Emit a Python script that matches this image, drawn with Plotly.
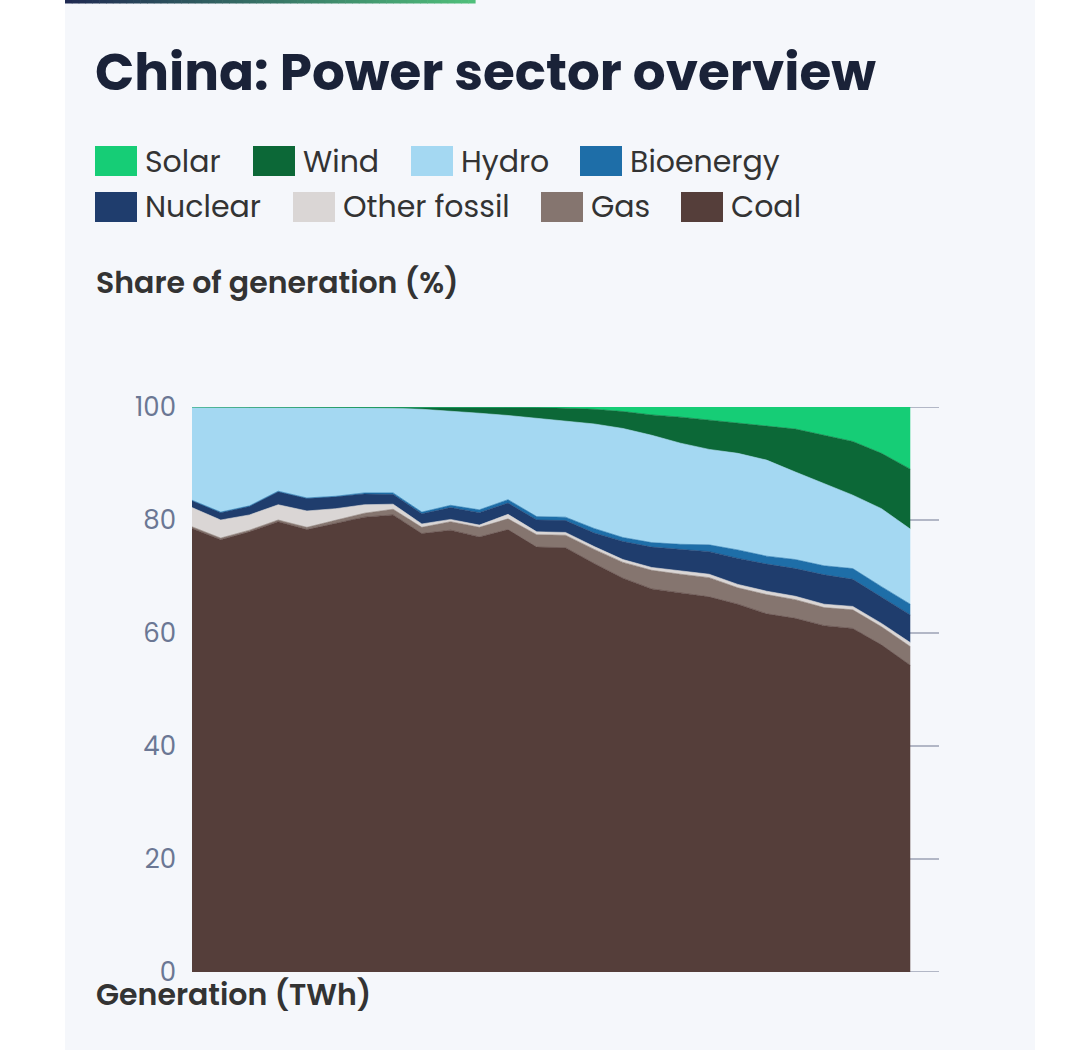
import plotly.graph_objects as go

# ---------------- data (share of generation, %) ----------------
years = list(range(2000, 2026))

coal = [78.5, 76.5, 77.9, 79.7, 78.3, 79.4, 80.5, 80.9, 77.6, 78.2, 77.0, 78.3, 75.2,
        75.1, 72.3, 69.7, 67.8, 67.1, 66.4, 65.1, 63.4, 62.6, 61.3, 60.8, 57.9, 54.3]
gas = [0.3, 0.3, 0.3, 0.3, 0.4, 0.5, 0.7, 1.0, 1.1, 1.5, 1.7, 1.9, 2.2,
       2.2, 2.5, 2.8, 3.3, 3.3, 3.4, 2.9, 3.4, 3.3, 3.2, 3.3, 3.2, 3.3]
other_fossil = [3.4, 3.2, 2.7, 2.7, 2.9, 2.1, 1.5, 0.9, 0.6, 0.4, 0.4, 0.8, 0.5,
                0.5, 0.5, 0.5, 0.5, 0.6, 0.6, 0.6, 0.6, 0.6, 0.6, 0.6, 0.6, 0.7]
nuclear = [1.2, 1.3, 1.5, 2.3, 2.2, 2.1, 1.9, 1.7, 1.8, 2.1, 2.2, 2.0, 2.1,
           2.1, 2.4, 3.2, 3.6, 3.8, 4.0, 4.6, 4.8, 4.9, 5.2, 4.8, 4.7, 4.9]
bioenergy = [0.1, 0.1, 0.1, 0.1, 0.1, 0.1, 0.2, 0.3, 0.3, 0.4, 0.5, 0.6, 0.6,
             0.6, 0.8, 0.7, 0.8, 0.9, 1.2, 1.5, 1.4, 1.6, 1.6, 1.9, 1.8, 1.9]
hydro = [16.5, 18.5, 17.4, 14.8, 16.0, 15.7, 15.1, 15.0, 18.2, 16.7, 17.1, 14.9, 17.4,
         17.0, 18.5, 19.3, 19.0, 17.9, 16.9, 17.1, 17.0, 15.5, 14.6, 13.0, 13.8, 13.3]
wind = [0.0, 0.1, 0.1, 0.1, 0.1, 0.1, 0.1, 0.2, 0.4, 0.7, 1.1, 1.5, 1.9,
        2.3, 2.6, 3.0, 3.6, 4.6, 5.2, 5.3, 6.0, 7.6, 8.5, 9.5, 9.8, 10.6]
solar = [0.0, 0.0, 0.0, 0.0, 0.0, 0.0, 0.0, 0.0, 0.0, 0.0, 0.0, 0.0, 0.1,
         0.2, 0.4, 0.8, 1.4, 1.8, 2.3, 2.9, 3.4, 3.9, 5.0, 6.1, 8.2, 11.0]

# bottom-to-top stacking order
series_names = ["Coal", "Gas", "Other fossil", "Nuclear", "Bioenergy", "Hydro", "Wind", "Solar"]
series_values = [coal, gas, other_fossil, nuclear, bioenergy, hydro, wind, solar]
series_colors = ["#553e3a", "#85756f", "#dad6d5", "#1f3d6d", "#1e6ea8", "#a4d8f2", "#0c6837", "#16cd76"]

# legend layout order (two rows)
legend_rows = [["Solar", "Wind", "Hydro", "Bioenergy"],
               ["Nuclear", "Other fossil", "Gas", "Coal"]]

y_ticks = [0, 20, 40, 60, 80, 100]
x_range = [2000, 2026]

title_text = "China: Power sector overview"
subtitle_text = "Share of generation (%)"
next_title_text = "Generation (TWh)"

# ---------------- geometry ----------------
WIDTH, HEIGHT = 1080, 1050
L, R, T, B = 192, 939, 407, 972
PW, PH = R - L, B - T


def fx(px):
    return (px - L) / PW


def fy(py):
    return (B - py) / PH


FONT = "Poppins, Inter, 'Noto Sans', sans-serif"
PANEL = "#f5f7fb"
GRID = "#b2b7c6"

fig = go.Figure()
color_of = dict(zip(series_names, series_colors))
for name, vals, col in zip(series_names, series_values, series_colors):
    fig.add_trace(go.Scatter(
        x=years, y=vals, name=name, mode="lines",
        stackgroup="one", line=dict(width=0.6, color=col), fillcolor=col,
        showlegend=False, hoverinfo="x+y+name",
    ))

shapes = []
# panel background
shapes.append(dict(type="rect", xref="paper", yref="paper", x0=fx(65), x1=fx(1035),
                   y0=fy(HEIGHT), y1=fy(0), fillcolor=PANEL, line=dict(width=0), layer="below"))
# grid lines at the range ends (0 and 100)
for v in (y_ticks[0], y_ticks[-1]):
    shapes.append(dict(type="line", xref="x", yref="y", x0=x_range[0], x1=x_range[1],
                       y0=v, y1=v, line=dict(color=GRID, width=2), layer="below"))
# gradient top bar
n_seg = 60
c0 = (0x1f, 0x2a, 0x52)
c1 = (0x4f, 0xbf, 0x7a)
bx0, bx1 = 65, 475
for i in range(n_seg):
    t = i / (n_seg - 1)
    c = tuple(round(c0[k] + (c1[k] - c0[k]) * t) for k in range(3))
    xa = bx0 + (bx1 - bx0) * i / n_seg
    xb = bx0 + (bx1 - bx0) * (i + 1) / n_seg + 0.6
    shapes.append(dict(type="rect", xref="paper", yref="paper", x0=fx(xa), x1=fx(xb),
                       y0=fy(3.5), y1=fy(0), fillcolor="rgb(%d,%d,%d)" % c,
                       line=dict(width=0), layer="above"))

annotations = []
annotations.append(dict(text="<b>" + title_text + "</b>", xref="paper", yref="paper",
                        x=fx(93), y=fy(72), xanchor="left", yanchor="middle", showarrow=False,
                        font=dict(family=FONT, size=51.6, color="#1a2238")))
annotations.append(dict(text=subtitle_text, xref="paper", yref="paper",
                        x=fx(94), y=fy(282), xanchor="left", yanchor="middle", showarrow=False,
                        font=dict(family=FONT, size=30, color="#333333", weight=600)))
annotations.append(dict(text=next_title_text, xref="paper", yref="paper",
                        x=fx(94), y=fy(994), xanchor="left", yanchor="middle", showarrow=False,
                        font=dict(family=FONT, size=30, color="#333333", weight=600)))

# custom legend
row_y = [161, 207]
row_x = [[95, 253, 411, 580], [95, 293, 541, 681]]
SQ_W, SQ_H = 42, 30
for r, names in enumerate(legend_rows):
    for c, name in enumerate(names):
        x0 = row_x[r][c]
        yc = row_y[r]
        shapes.append(dict(type="rect", xref="paper", yref="paper",
                           x0=fx(x0), x1=fx(x0 + SQ_W), y0=fy(yc + SQ_H / 2), y1=fy(yc - SQ_H / 2),
                           fillcolor=color_of[name], line=dict(width=0), layer="above"))
        annotations.append(dict(text=name, xref="paper", yref="paper",
                                x=fx(x0 + SQ_W + 6), y=fy(yc), xanchor="left", yanchor="middle",
                                showarrow=False, font=dict(family=FONT, size=30, color="#333333")))

fig.update_layout(
    width=WIDTH, height=HEIGHT,
    margin=dict(l=L, r=WIDTH - R, t=T, b=HEIGHT - B, pad=0),
    paper_bgcolor="#ffffff", plot_bgcolor=PANEL,
    shapes=shapes, annotations=annotations,
    showlegend=False,
    xaxis=dict(range=x_range, showgrid=False, zeroline=False, showticklabels=False,
               showline=False, ticks=""),
    yaxis=dict(range=[0, 100], tickvals=y_ticks, ticktext=[str(v) for v in y_ticks],
               showgrid=True, gridcolor=GRID, gridwidth=2, zeroline=False,
               showline=False, ticks="", ticklabelstandoff=15,
               tickfont=dict(family=FONT, size=26, color="#6b7794")),
    font=dict(family=FONT),
)

fig.write_html(
    "out.html",
    config={"displayModeBar": False},
    post_script="document.body.style.margin='0';document.body.style.padding='0';"
                "document.documentElement.style.overflow='hidden';",
)
